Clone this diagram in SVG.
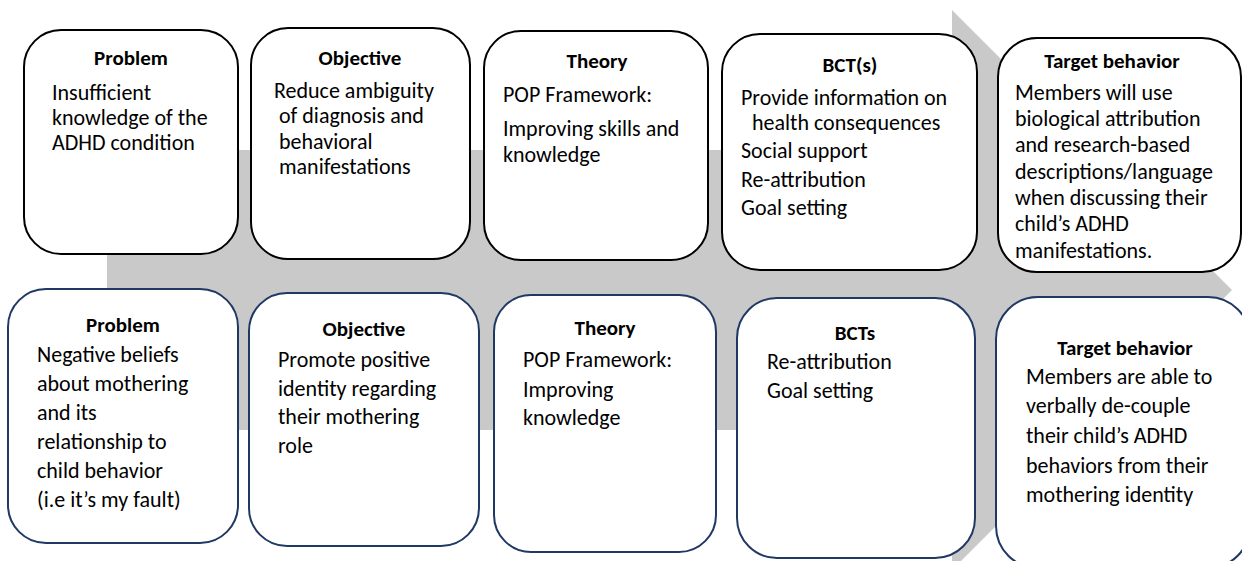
<svg xmlns="http://www.w3.org/2000/svg" width="1242" height="561" viewBox="0 0 1242 561">
  <style>
    .box { fill: #ffffff; stroke-width: 2; }
    .top { stroke: #000000; }
    .bot { stroke: #1f3864; }
    text { font-family: Carlito, Lato, "Liberation Sans", sans-serif; font-size: 22px; fill: #000000; }
    .title { font-weight: bold; text-anchor: middle; font-size: 21px; }
  </style>

  <!-- background process arrow -->
  <g id="flow-arrow">
    <polygon points="107,150 952,150 952,10 1232,290 952,570 952,430 107,430" fill="#c9c9c9"/>
  </g>

  <!-- upper row: knowledge of the condition -->
  <g id="problem-1">
    <rect class="box top" x="24" y="30" width="214" height="224" rx="37"/>
    <text class="title" x="131" y="65">Problem</text>
    <text x="52" y="100">Insufficient</text>
    <text x="52" y="125">knowledge of the</text>
    <text x="52" y="150">ADHD condition</text>
  </g>

  <g id="objective-1">
    <rect class="box top" x="251" y="28" width="219" height="231" rx="37"/>
    <text class="title" x="360" y="65">Objective</text>
    <text x="274" y="98">Reduce ambiguity</text>
    <text x="279" y="123">of diagnosis and</text>
    <text x="279" y="149">behavioral</text>
    <text x="279" y="174">manifestations</text>
  </g>

  <g id="theory-1">
    <rect class="box top" x="484" y="31" width="224" height="229" rx="37"/>
    <text class="title" x="597" y="68">Theory</text>
    <text x="503" y="102">POP Framework:</text>
    <text x="503" y="136">Improving skills and</text>
    <text x="503" y="162">knowledge</text>
  </g>

  <g id="bct-1">
    <rect class="box top" x="722" y="34" width="255" height="236" rx="38"/>
    <text class="title" x="850" y="72">BCT(s)</text>
    <text x="741" y="105">Provide information on</text>
    <text x="752" y="130">health consequences</text>
    <text x="741" y="158">Social support</text>
    <text x="741" y="187">Re-attribution</text>
    <text x="741" y="215">Goal setting</text>
  </g>

  <g id="target-1">
    <rect class="box top" x="998" y="38" width="243" height="234" rx="39"/>
    <text class="title" x="1112" y="68">Target behavior</text>
    <text x="1015" y="100">Members will use</text>
    <text x="1015" y="126">biological attribution</text>
    <text x="1015" y="152">and research-based</text>
    <text x="1015" y="179">descriptions/language</text>
    <text x="1015" y="205">when discussing their</text>
    <text x="1015" y="231">child’s ADHD</text>
    <text x="1015" y="258">manifestations.</text>
  </g>

  <!-- lower row: mothering identity -->
  <g id="problem-2">
    <rect class="box bot" x="8" y="289" width="230" height="254" rx="38"/>
    <text class="title" x="123" y="332">Problem</text>
    <text x="37" y="362">Negative beliefs</text>
    <text x="37" y="391">about mothering</text>
    <text x="37" y="420">and its</text>
    <text x="37" y="449">relationship to</text>
    <text x="37" y="478">child behavior</text>
    <text x="37" y="507">(i.e it’s my fault)</text>
  </g>

  <g id="objective-2">
    <rect class="box bot" x="249" y="293" width="230" height="253" rx="38"/>
    <text class="title" x="364" y="336">Objective</text>
    <text x="278" y="367">Promote positive</text>
    <text x="278" y="396">identity regarding</text>
    <text x="278" y="424">their mothering</text>
    <text x="278" y="453">role</text>
  </g>

  <g id="theory-2">
    <rect class="box bot" x="494" y="295" width="222" height="257" rx="37"/>
    <text class="title" x="605" y="335">Theory</text>
    <text x="523" y="367">POP Framework:</text>
    <text x="523" y="397">Improving</text>
    <text x="523" y="425">knowledge</text>
  </g>

  <g id="bct-2">
    <rect class="box bot" x="737" y="298" width="238" height="260" rx="40"/>
    <text class="title" x="855" y="340">BCTs</text>
    <text x="767" y="369">Re-attribution</text>
    <text x="767" y="398">Goal setting</text>
  </g>

  <g id="target-2">
    <rect class="box bot" x="996" y="297" width="254" height="271" rx="42"/>
    <text class="title" x="1125" y="355">Target behavior</text>
    <text x="1026" y="384">Members are able to</text>
    <text x="1026" y="413">verbally de-couple</text>
    <text x="1026" y="443">their child’s ADHD</text>
    <text x="1026" y="473">behaviors from their</text>
    <text x="1026" y="502">mothering identity</text>
  </g>
</svg>
